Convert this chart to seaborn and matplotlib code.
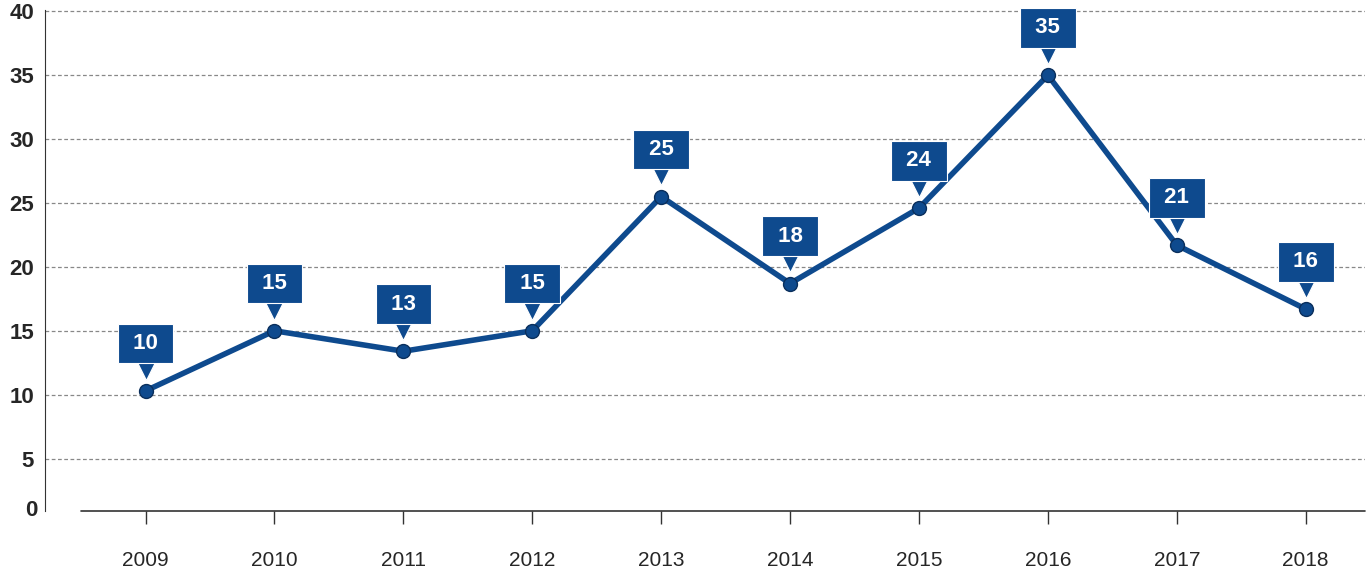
import matplotlib
matplotlib.use("Agg")
import matplotlib.pyplot as plt
import matplotlib.transforms as mtrans
import seaborn as sns
import pandas as pd

years = ["2009","2010","2011","2012","2013","2014","2015","2016","2017","2018"]
values = [10.3, 15.0, 13.4, 15.0, 25.5, 18.7, 24.6, 35.0, 21.7, 16.7]
labels = ["10","15","13","15","25","18","24","35","21","16"]
yticks = [0,5,10,15,20,25,30,35,40]

sns.set_style("white")
plt.rcParams['font.family'] = ['Liberation Sans', 'DejaVu Sans']
color = "#0e4a8e"

fig = plt.figure(figsize=(13.68,5.79), dpi=100)
ax = fig.add_axes([45/1368, 68/579, 1320/1368, 501/579])
df = pd.DataFrame({"x": range(len(years)), "y": values})
sns.lineplot(data=df, x="x", y="y", ax=ax, color=color, lw=4, marker="o",
             markersize=10, markeredgecolor="#0a2f5c", markeredgewidth=1, zorder=3)
ax.set_xlim(-0.78, 9.46)
ax.set_ylim(0.9, 40.1)
ax.set_yticks(yticks[1:])
ax.set_yticklabels(yticks[1:], fontsize=16, fontweight="bold")
ax.text(-0.84, 0.9, "0", transform=ax.transData, ha="right", va="center", fontsize=16, fontweight="bold")
for t in yticks[1:]:
    ax.axhline(t, color="#888888", ls=(0,(3,2)), lw=0.9, zorder=0)
ax.set_xticks(range(len(years)))
ax.set_xticklabels(years, fontsize=15)
ax.tick_params(axis="x", bottom=True, length=9, width=1, color="#333333", pad=20, direction="out")
ax.tick_params(axis="y", length=0, pad=8)
ax.set_xlabel(""); ax.set_ylabel("")
for s in ["top","right","bottom"]:
    ax.spines[s].set_visible(False)
ax.spines["left"].set_color("#333333")
ax.plot([-0.5, 9.46], [0.9, 0.9], color="#333333", lw=1.2, clip_on=False)
shift = mtrans.ScaledTranslation(0, 16/72, fig.dpi_scale_trans)
for i, (v, lab) in enumerate(zip(values, labels)):
    ax.plot([i], [v], marker="v", markersize=16, color=color, markeredgecolor="white",
            markeredgewidth=0.8, zorder=4, linestyle="none", transform=ax.transData + shift)
    ax.annotate(f" {lab} ", xy=(i, v), xytext=(0, 34), textcoords="offset points",
                ha="center", va="center", color="white", fontsize=16, fontweight="bold",
                bbox=dict(boxstyle="square,pad=0.42", fc=color, ec="white", lw=0.8),
                zorder=5)
fig.savefig("out.png", dpi=100)
